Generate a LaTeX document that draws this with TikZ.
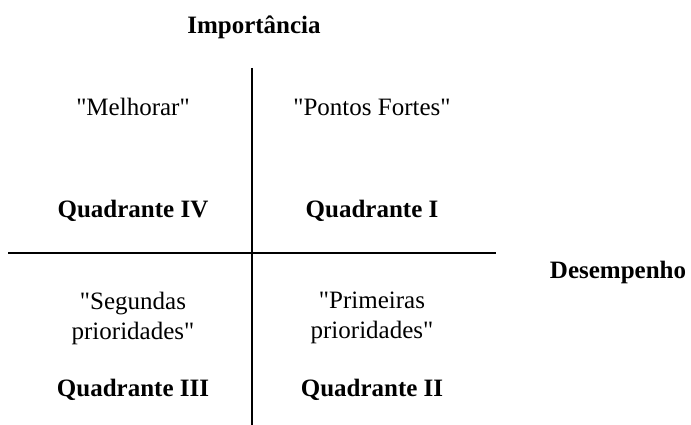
\documentclass[tikz,border=0pt]{standalone}
\usepackage{fontspec}
\setmainfont{Liberation Serif}[Ligatures=TeXOff]
\begin{document}
\begin{tikzpicture}[x=1pt,y=-1pt,line cap=butt,
  axis/.style={line width=2.6pt},
  lbl/.style={font=\fontsize{25}{30}\selectfont, align=center},
  quad/.style={font=\fontsize{25}{30}\selectfont\bfseries}]
\useasboundingbox (0,0) rectangle (691,425);
\draw [axis] (252,68)--(252,425);
\draw [axis] (8,253)--(496,253);
\node [quad] (imp) at (254,27) {Importância};
\node [quad] (des) at (618,272) {Desempenho};
\node [lbl] (melh) at (133,107) {"Melhorar"};
\node [lbl] (fortes) at (372,107) {"Pontos Fortes"};
\node [quad] (q4) at (133,211) {Quadrante IV};
\node [quad] (q1) at (372,211) {Quadrante I};
\node [lbl] (seg) at (133,318) {"Segundas\\prioridades"};
\node [lbl] (prim) at (372,318) {"Primeiras\\prioridades"};
\node [quad] (q3) at (133,390) {Quadrante III};
\node [quad] (q2) at (372,390) {Quadrante II};
\end{tikzpicture}
\end{document}
